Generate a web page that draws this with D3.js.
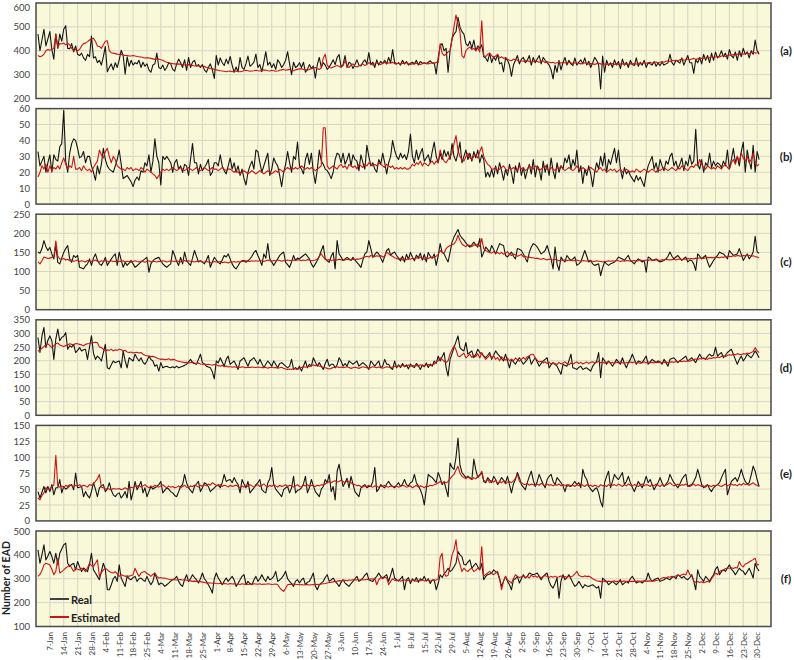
<!DOCTYPE html>
<html><head><meta charset="utf-8">
<script src="https://cdn.jsdelivr.net/npm/d3@7"></script>
<style>html,body{margin:0;padding:0;background:#fff;overflow:hidden}svg{display:block;font-family:Lato,"Open Sans",sans-serif}</style>
</head><body><svg id="chart" width="794" height="660"></svg>
<script>
const tickLabels = ["7-Jan","14-Jan","21-Jan","28-Jan","4-Feb","11-Feb","18-Feb","25-Feb","4-Mar","11-Mar","18-Mar","25-Mar","1-Apr","8-Apr","15-Apr","22-Apr","29-Apr","6-May","13-May","20-May","27-May","3-Jun","10-Jun","17-Jun","24-Jun","1-Jul","8-Jul","15-Jul","22-Jul","29-Jul","5-Aug","12-Aug","19-Aug","26-Aug","2-Sep","9-Sep","16-Sep","23-Sep","30-Sep","7-Oct","14-Oct","21-Oct","28-Oct","4-Nov","11-Nov","18-Nov","25-Nov","2-Dec","9-Dec","16-Dec","23-Dec","30-Dec"];
const panelNames = ["(a)","(b)","(c)","(d)","(e)","(f)"];
const yMin = [200,0,0,0,0,100];
const yMax = [600,60,250,350,150,500];
const yStep = [100,10,50,50,25,100];
const legendLabels = ["Real","Estimated"];
const yTitle = "Number of EAD";

const realA = [
470,400,445,490,420,450,480,405,365,470,
410,470,440,490,505,410,408,430,395,420,
385,380,390,370,360,385,375,462,370,375,
350,360,340,375,418,312,330,345,320,350,
330,362,402,380,302,375,335,360,340,350,
345,360,330,352,335,345,320,310,340,345,
390,330,325,340,318,330,350,345,322,315,
345,365,350,330,362,318,372,330,352,360,
335,342,330,342,320,310,330,345,320,284,
380,340,370,350,338,365,345,376,340,310,
332,312,372,330,322,346,378,335,342,352,
386,330,342,312,352,396,340,352,330,346,
322,362,350,330,342,360,396,345,300,352,
330,336,350,330,352,310,322,342,326,336,
285,342,372,330,350,340,322,332,346,362,
342,372,384,332,342,380,330,352,346,326,
342,362,340,336,352,362,346,392,342,352,
330,362,340,356,346,360,345,372,350,405,
352,345,350,340,360,345,355,340,348,352,
345,360,340,355,348,350,345,352,358,348,
350,302,370,420,430,400,410,310,400,450,
470,480,540,500,480,470,430,420,440,410,
445,400,420,410,425,375,370,355,390,350,
375,360,385,345,350,312,370,360,340,293,
340,360,380,345,365,372,350,360,380,340,
372,350,365,380,345,372,360,350,340,320,
282,340,310,360,320,350,372,340,360,345,
338,370,340,352,362,345,370,340,356,330,
350,372,360,340,240,378,310,360,338,350,
330,362,340,355,325,365,340,352,330,360,
342,338,370,335,352,340,360,330,350,345,
340,355,335,348,338,352,340,345,350,385,
350,340,360,355,348,370,340,360,380,350,
350,305,362,350,372,345,385,360,380,350,
390,360,395,370,380,400,375,390,365,405,
380,370,395,360,400,375,410,385,395,370,
400,385,445,400,385];
const estA = [
380,375,378,385,400,405,402,405,410,470,
415,430,428,432,425,430,425,410,400,405,
400,405,420,430,432,438,445,450,452,440,
420,418,410,425,440,442,400,392,390,388,
386,385,385,382,380,380,378,378,380,378,
376,375,374,372,370,370,370,368,366,364,
366,365,362,360,355,352,350,348,346,345,
344,345,343,342,340,341,342,340,338,336,
338,336,335,334,335,330,328,326,325,322,
320,318,316,315,314,312,314,315,312,314,
315,313,312,314,316,318,316,314,315,316,
318,316,315,318,320,318,316,315,318,316,
314,315,318,320,322,318,320,322,318,316,
320,322,324,325,322,320,318,322,325,328,
330,325,322,328,370,385,340,330,328,332,
335,338,335,330,338,360,335,330,340,345,
335,332,336,340,345,338,342,350,345,340,
345,350,346,342,348,352,345,350,348,352,
346,344,348,345,348,346,350,345,342,346,
344,348,345,342,346,350,348,345,348,350,
346,352,350,430,390,380,385,395,400,450,
500,550,510,480,380,370,400,410,415,405,
410,400,412,395,525,380,375,385,390,380,
372,378,385,370,375,368,372,365,360,358,
365,362,360,355,358,356,360,358,355,352,
356,358,355,352,356,358,350,354,352,350,
352,348,350,352,349,351,350,348,352,350,
346,350,348,347,345,348,350,346,344,346,
345,343,346,348,345,342,344,345,342,344,
346,343,345,342,344,346,342,345,343,346,
344,346,344,348,345,347,350,348,350,352,
348,350,353,350,352,355,352,356,358,355,
360,358,360,358,362,365,360,362,365,362,
365,368,364,366,370,368,370,368,372,370,
375,372,374,376,374,378,380,376,380,382,
380,384,382,386,384,388,385,388,390,386,
392,395,390,392,395];

const realB = [
33,24,27,30,20,26,31,20,31,28,
27,36,38,59,27,20,32,38,41,40,
35,29,30,33,26,30,30,24,20,15,
24,19,25,35,28,24,22,21,20,24,
28,34,25,16,17,18,16,14,11,15,
17,15,21,20,26,24,31,20,27,41,
30,26,12,30,28,30,28,26,20,26,
28,22,24,20,25,24,18,28,38,26,
26,19,25,21,23,25,28,18,20,26,
26,24,31,24,21,19,24,29,22,26,
20,24,18,22,16,12,20,24,27,22,
34,33,26,20,24,28,32,18,22,29,
26,24,18,11,20,25,33,26,20,30,
28,39,24,22,19,28,32,25,32,20,
13,22,34,27,25,22,21,19,16,20,
28,32,31,26,32,25,28,32,24,31,
28,27,21,31,26,22,37,30,24,26,
22,20,28,25,32,26,19,26,30,40,
34,30,28,32,29,31,28,33,44,30,
26,34,28,32,35,27,29,31,26,33,
39,30,26,32,28,34,30,33,28,38,
30,27,32,39,26,30,34,28,32,27,
33,29,34,26,31,28,17,20,17,22,
17,24,19,26,21,15,22,18,25,20,
13,24,20,26,18,23,16,21,25,19,
28,17,24,22,15,27,20,25,18,29,
21,16,26,20,24,22,29,26,31,22,
28,24,34,20,24,13,22,18,24,19,
11,20,26,22,30,24,32,20,28,25,
30,35,26,34,22,16,23,19,21,18,
16,14,18,15,17,14,11,19,24,27,
30,22,26,20,28,24,21,27,25,30,
32,24,27,22,25,29,21,27,24,31,
25,27,47,25,22,28,20,26,24,32,
23,27,24,26,25,23,27,24,34,22,
28,35,26,30,24,33,39,20,34,27,
22,37,20,33,28];
const estB = [
17,20,24,22,25,20,24,21,23,22,
24,22,26,29,25,22,24,23,30,22,
22,23,21,24,22,21,22,20,23,25,
27,34,31,29,33,35,30,26,30,28,
24,23,22,22,21,23,22,23,21,22,
22,21,23,22,20,22,21,20,19,18,
16,18,20,22,21,22,21,22,23,22,
21,22,23,22,21,22,23,22,21,22,
23,22,21,22,23,22,21,22,23,22,
22,21,22,23,22,21,22,22,21,20,
21,20,19,20,21,20,19,20,21,20,
19,20,21,20,19,20,21,20,19,20,
21,20,22,21,20,22,23,22,23,22,
23,22,23,24,23,22,23,22,23,22,
21,22,23,24,48,48,24,22,23,24,
23,22,24,25,23,24,22,25,24,23,
24,22,25,24,23,25,24,26,25,24,
25,24,26,25,24,23,25,24,23,24,
22,23,22,23,22,23,22,22,23,25,
24,26,25,27,24,26,25,24,26,27,
25,27,26,34,30,27,26,28,30,32,
38,43,34,30,28,27,30,32,29,28,
30,31,29,33,36,30,27,25,24,22,
22,23,21,22,23,24,22,21,23,22,
23,22,21,24,22,23,21,22,24,23,
22,24,23,21,22,23,24,22,21,23,
22,21,23,22,24,22,21,22,23,22,
21,22,24,22,21,23,22,21,22,23,
22,21,20,22,23,21,22,20,21,22,
21,22,20,21,22,20,21,22,21,20,
21,20,22,21,20,21,22,21,20,21,
22,21,20,22,21,22,23,22,21,22,
23,22,21,23,22,24,23,22,21,23,
24,23,25,24,28,25,23,22,24,23,
22,23,22,24,23,22,24,25,23,22,
26,28,25,30,27,32,29,27,30,26,
28,32,27,24,25];

const realC = [
151,148,160,181,165,155,163,146,133,168,
124,120,135,150,160,168,133,124,142,137,
142,111,109,107,115,120,133,116,135,146,
130,120,116,125,137,116,125,133,140,146,
116,151,130,111,124,116,122,129,120,111,
115,120,125,129,133,137,98,120,128,133,
135,137,128,120,115,111,116,120,155,142,
126,116,137,120,151,129,122,116,135,155,
140,125,128,125,120,130,142,111,125,137,
130,124,120,130,142,138,146,133,120,111,
107,115,124,128,129,124,128,133,140,150,
155,142,130,116,146,135,173,133,125,116,
125,133,142,147,151,124,118,111,125,142,
129,135,133,138,142,146,140,133,120,111,
120,129,140,155,168,133,128,124,140,150,
107,181,146,138,129,133,137,133,129,137,
130,124,118,111,130,146,151,181,160,137,
144,151,146,135,124,140,155,160,142,148,
151,142,135,128,140,125,145,132,150,138,
128,143,136,148,130,145,125,150,140,135,
146,116,140,173,150,146,135,125,150,177,
190,200,210,195,188,182,175,168,164,170,
177,170,164,186,138,150,164,158,151,168,
158,146,160,173,170,168,142,138,145,151,
140,133,160,158,155,146,135,125,150,164,
173,170,164,155,146,150,155,168,150,133,
107,164,120,103,138,130,125,142,135,129,
133,138,116,120,125,140,155,140,125,129,
120,116,118,120,89,110,125,120,116,120,
122,125,130,138,135,133,129,136,142,129,
125,120,128,133,129,125,129,98,138,135,
129,131,133,128,125,127,129,133,140,151,
140,133,138,142,135,129,134,138,125,130,
129,120,103,146,140,133,138,142,125,111,
120,129,136,142,151,148,146,140,133,155,
148,142,144,146,160,145,129,138,146,133,
140,151,192,151,148];
const estC = [
125,120,128,138,136,134,135,137,138,180,
140,133,132,134,130,132,128,130,127,128,
130,126,128,127,125,129,127,126,128,130,
127,125,128,126,129,127,125,128,126,127,
125,127,126,128,125,127,126,124,126,128,
126,125,127,126,124,126,128,125,127,126,
125,127,126,128,127,125,126,128,127,126,
128,126,125,127,129,126,128,127,126,125,
127,126,128,125,124,126,125,123,124,126,
125,124,126,123,125,124,122,125,124,126,
124,126,125,127,126,128,127,126,128,127,
128,127,129,128,126,128,130,128,127,129,
128,130,129,127,129,128,130,129,128,130,
129,131,130,128,130,129,131,130,128,129,
130,132,140,146,138,132,130,131,129,130,
131,130,132,131,129,130,132,131,130,132,
131,133,132,134,136,138,140,138,142,140,
139,141,140,142,138,140,151,146,142,140,
136,134,132,135,130,133,131,134,132,135,
133,136,134,138,135,132,136,134,137,135,
138,140,145,155,150,148,160,165,168,170,
172,180,195,182,172,168,165,170,168,165,
170,168,172,166,186,160,155,152,150,148,
152,148,150,146,150,145,148,152,145,142,
146,144,140,142,145,138,140,137,138,136,
136,134,135,133,132,134,132,130,133,131,
130,132,130,128,130,129,131,128,130,129,
128,129,130,128,127,129,128,127,129,128,
127,126,128,127,126,125,127,126,128,127,
128,127,129,128,126,128,127,129,128,127,
128,129,127,128,130,129,128,130,129,131,
130,129,131,130,129,131,130,132,131,130,
131,132,130,132,133,131,133,132,134,133,
134,133,135,134,136,135,134,136,137,136,
137,136,138,137,136,138,137,139,138,140,
139,141,140,142,141,140,142,141,143,142,
140,141,139,138,136];

const realD = [
285,230,290,322,248,275,291,273,205,279,
316,273,285,290,303,242,255,250,260,230,
238,248,236,240,242,205,250,291,228,205,
217,210,199,230,260,174,170,185,199,193,
196,199,174,236,200,174,211,205,199,224,
210,199,211,195,187,199,217,205,199,180,
185,162,193,174,178,180,176,174,178,174,
180,174,177,180,183,187,196,205,193,190,
187,205,224,193,188,180,177,174,160,134,
199,192,211,195,180,205,217,187,193,199,
184,168,199,205,211,195,180,199,205,211,
199,187,205,190,174,187,199,190,180,199,
187,174,190,193,187,180,174,180,205,168,
175,168,180,162,180,199,174,187,180,211,
195,180,193,180,168,190,205,180,187,187,
174,185,211,199,180,190,180,199,193,187,
193,199,180,187,193,187,180,168,199,190,
180,190,199,174,180,205,187,187,174,168,
199,174,185,175,190,178,185,170,188,180,
175,190,182,168,185,178,192,175,188,180,
199,190,217,199,215,230,175,144,205,226,
248,270,291,248,240,236,267,224,230,236,
211,224,242,230,224,218,211,220,230,205,
220,236,225,217,208,199,224,200,174,205,
196,187,200,211,199,187,196,205,217,187,
200,211,195,180,190,199,205,211,174,185,
193,186,180,165,150,187,183,180,200,224,
174,172,168,176,180,168,172,174,168,162,
180,190,199,230,138,211,200,187,199,190,
180,192,205,196,187,211,190,174,193,205,
224,206,187,199,196,193,205,217,187,196,
205,199,193,199,196,187,205,193,180,205,
208,211,202,193,200,205,211,217,199,205,
211,202,193,209,224,211,208,205,217,224,
217,220,250,217,224,230,211,220,230,236,
242,224,205,187,205,217,199,210,224,217,
211,222,236,225,211];
const estD = [
235,240,245,252,258,262,255,248,255,262,
265,258,255,252,256,258,262,260,258,263,
262,260,258,255,260,262,263,265,267,268,
266,250,248,242,236,240,238,242,236,240,
238,242,240,236,238,232,230,232,228,230,
231,228,230,224,220,218,217,215,216,214,
210,207,205,206,204,205,207,203,205,204,
200,198,196,195,193,194,192,193,195,192,
190,192,188,187,188,186,187,185,184,186,
185,182,180,183,178,181,177,179,176,178,
176,177,175,178,176,174,176,175,177,176,
175,177,176,174,176,175,173,175,176,174,
175,173,174,176,172,170,168,170,168,172,
170,168,172,175,178,176,180,178,182,185,
182,185,180,178,176,174,172,170,172,175,
176,178,175,177,174,176,178,175,172,174,
176,174,172,175,178,176,174,172,175,178,
176,174,177,175,173,175,178,176,174,177,
180,178,182,180,183,179,181,184,180,182,
181,183,180,185,182,180,184,186,183,185,
188,195,200,211,205,198,193,200,225,240,
254,240,217,215,222,228,210,218,224,212,
220,215,226,210,230,216,205,212,222,210,
218,205,212,200,215,208,202,210,200,206,
200,210,204,198,206,212,205,215,218,224,
224,210,202,195,198,192,196,190,194,188,
192,190,186,194,188,192,196,190,185,192,
188,192,196,190,194,188,192,195,190,194,
196,192,194,198,192,195,191,194,196,192,
194,190,195,192,196,193,190,194,192,195,
193,196,192,194,190,193,196,192,195,193,
194,192,196,193,195,192,194,196,193,195,
196,194,197,195,198,196,199,197,200,198,
202,204,206,204,208,206,210,208,205,210,
208,212,210,214,212,216,218,215,220,222,
220,224,222,226,224,222,226,224,228,226,
230,234,248,236,230];

const realE = [
46,36,45,54,44,54,46,57,41,52,
52,65,44,54,50,52,55,57,49,75,
52,53,54,38,46,40,36,46,60,50,
38,52,55,57,46,50,60,48,41,38,
42,44,36,40,46,36,62,33,45,62,
49,55,62,44,52,38,46,54,50,52,
54,57,62,44,48,52,50,46,44,40,
38,46,54,57,73,60,52,48,44,54,
58,62,46,52,60,58,54,46,49,52,
55,57,52,60,73,62,64,65,60,68,
62,57,44,65,58,52,62,44,48,52,
57,60,65,49,46,44,60,66,84,57,
50,46,42,38,49,52,54,44,52,70,
44,48,49,52,58,70,44,52,65,55,
46,42,38,50,54,65,60,73,46,54,
33,78,89,70,54,60,67,52,70,58,
46,42,38,52,55,57,52,54,54,62,
84,46,50,57,54,52,58,62,57,54,
52,56,60,54,58,65,57,55,60,62,
73,60,55,49,40,25,50,73,70,68,
64,60,76,68,57,62,50,38,91,84,
81,100,130,88,76,72,68,70,68,65,
97,80,68,72,76,62,60,68,64,60,
70,65,57,62,68,64,60,70,57,44,
58,65,76,68,57,53,49,60,70,78,
64,54,62,73,65,58,52,65,70,73,
62,57,68,64,60,55,46,57,55,54,
58,62,57,60,52,81,70,65,54,50,
46,50,52,44,30,22,60,70,78,52,
62,73,68,65,70,76,57,62,70,60,
53,46,54,62,57,52,60,70,60,65,
57,49,55,60,68,60,54,58,62,73,
66,60,56,52,58,65,70,73,54,56,
57,62,68,81,70,57,52,55,57,50,
46,52,55,57,60,68,75,81,41,52,
62,65,68,62,70,81,70,62,58,60,
72,86,78,65,54];
const estE = [
36,33,40,44,52,50,50,54,56,103,
55,53,55,52,56,54,57,55,53,56,
55,57,54,56,55,53,57,56,58,62,
66,73,53,52,50,51,50,49,51,50,
50,51,49,50,52,50,51,53,52,55,
54,56,53,55,57,54,52,55,53,56,
54,53,55,57,54,52,55,53,54,52,
53,55,52,54,56,53,52,55,54,56,
55,53,56,54,57,55,58,56,60,58,
56,55,57,54,56,55,53,56,54,55,
56,54,52,55,53,56,54,57,55,53,
55,57,54,56,58,55,53,56,54,57,
55,53,56,54,55,57,54,56,55,53,
55,57,54,53,56,55,57,54,56,55,
54,56,55,57,56,58,60,62,60,62,
63,61,62,64,62,60,63,62,60,58,
57,55,56,54,53,55,54,56,54,53,
55,54,53,55,54,56,54,53,55,54,
54,55,53,54,56,55,53,54,55,52,
54,56,53,55,54,52,55,54,56,55,
57,58,60,62,59,61,60,62,66,70,
73,80,86,75,70,68,66,69,67,65,
68,66,70,72,78,64,62,65,60,63,
61,64,59,62,60,63,58,61,62,60,
63,67,73,62,60,58,57,59,56,58,
57,55,58,56,59,57,55,58,56,57,
55,57,56,58,55,57,56,54,57,55,
56,54,57,55,58,56,54,57,55,56,
54,56,55,53,57,55,56,54,57,55,
56,57,55,58,56,54,57,55,58,56,
55,57,56,54,56,58,55,57,56,54,
57,55,58,56,54,57,55,56,58,60,
57,55,56,58,55,57,56,58,55,54,
56,58,55,57,56,54,55,53,56,55,
54,56,55,57,55,54,56,58,55,57,
58,56,57,55,58,56,59,57,58,56,
58,60,57,56,54];

const realF = [
421,365,400,442,379,395,414,393,365,407,
358,407,425,442,449,365,351,360,365,337,
372,350,330,345,338,330,360,407,337,324,
310,296,331,365,340,254,254,275,300,310,
289,358,303,285,268,310,300,296,305,310,
289,300,303,295,289,310,290,275,289,324,
300,275,282,278,268,275,282,290,296,300,
310,289,275,268,296,317,289,300,317,305,
296,282,300,324,300,289,275,260,240,300,
324,303,290,275,290,303,289,300,310,295,
268,280,296,310,317,275,289,280,275,295,
310,289,300,317,300,289,310,296,300,310,
331,289,295,303,315,331,300,289,280,268,
290,296,282,295,303,275,285,289,305,324,
270,254,275,282,289,305,317,289,295,303,
289,280,268,285,296,282,275,268,280,289,
300,310,289,295,303,315,324,296,292,289,
300,310,324,310,303,310,317,289,315,344,
303,296,290,300,310,254,295,305,280,300,
290,305,285,300,295,310,290,300,280,295,
296,254,280,317,305,320,330,344,330,337,
350,365,414,400,393,360,358,370,379,344,
355,365,350,337,365,296,310,317,320,324,
337,330,324,300,268,290,310,289,275,254,
296,300,310,282,300,317,303,310,324,320,
317,320,324,310,296,310,318,324,289,270,
261,280,303,219,290,317,296,305,317,300,
282,268,275,289,275,261,275,270,268,272,
275,268,261,268,219,303,295,289,275,282,
289,282,275,285,296,275,282,289,282,300,
310,296,282,286,289,282,290,296,324,300,
289,296,300,303,289,293,296,303,300,296,
305,310,300,317,310,303,310,300,296,305,
317,290,254,337,310,300,289,310,300,289,
305,317,340,351,317,330,337,331,345,358,
340,331,317,330,344,335,331,317,330,344,
325,303,365,344,333];
const estF = [
310,318,335,358,365,362,358,340,317,331,
386,324,330,337,345,351,358,345,330,344,
340,337,344,338,330,345,365,355,351,365,
379,310,325,337,344,338,330,326,324,330,
320,310,317,314,310,312,310,314,317,344,
325,310,324,328,330,322,317,310,318,324,
310,303,305,302,303,300,298,296,297,296,
295,296,297,295,296,294,292,291,289,290,
289,289,288,286,284,282,283,282,281,282,
280,279,281,278,280,279,277,280,278,279,
277,278,276,279,277,278,276,278,277,279,
278,277,279,276,278,277,279,278,276,277,
278,276,262,254,247,260,275,277,276,278,
277,276,275,276,274,275,276,274,275,276,
275,277,276,278,279,280,282,284,285,287,
289,290,292,291,293,294,292,295,294,296,
295,296,294,297,296,295,298,296,300,298,
302,275,296,305,300,306,304,275,289,300,
294,292,295,290,293,296,292,294,291,295,
293,290,294,292,296,291,293,295,290,294,
292,295,300,390,407,324,310,315,351,400,
421,463,386,360,330,344,335,330,340,344,
330,335,344,340,435,310,318,324,331,322,
317,324,331,300,254,290,310,295,289,282,
300,317,310,305,308,312,305,310,303,315,
308,312,306,310,304,308,314,309,305,310,
306,311,305,308,312,306,309,305,310,307,
312,320,331,315,310,308,312,309,311,306,
300,296,292,290,288,291,289,287,290,288,
289,291,288,290,287,289,291,288,290,289,
288,290,289,291,288,290,292,289,291,290,
292,290,293,295,298,303,305,302,308,306,
310,308,312,315,313,317,320,316,337,318,
310,290,285,288,284,287,283,286,289,285,
300,312,324,318,330,335,338,342,345,344,
346,343,347,345,372,355,350,362,365,370,
375,380,386,358,360];

const realSeries = [realA, realB, realC, realD, realE, realF];
const estSeries = [estA, estB, estC, estD, estE, estF];
const tickDays = tickLabels.map((_, k) => 6 + 7 * k);

const svg = d3.select("#chart");
const left = 36, right = 771, panelH = 95.5, panelGap = 105.6, firstTop = 3;
const x = d3.scaleLinear().domain([-1, 370]).range([left, right]);

realSeries.forEach((real, i) => {
  const top = firstTop + panelGap * i;
  const bottom = top + panelH;
  const y = d3.scaleLinear().domain([yMin[i], yMax[i]]).range([bottom, top]);
  const ticks = d3.range(yMin[i], yMax[i] + 0.001, yStep[i]);
  const g = svg.append("g");
  g.append("rect").attr("x", left).attr("y", top).attr("width", right - left).attr("height", panelH)
    .attr("fill", "#f9f8d8");
  g.append("g").selectAll("line").data(tickDays).join("line")
    .attr("x1", d => x(d)).attr("x2", d => x(d)).attr("y1", top).attr("y2", bottom)
    .attr("stroke", "#d7d6c6").attr("stroke-width", 1);
  g.append("g").selectAll("line").data(ticks.slice(1, -1)).join("line")
    .attr("x1", left).attr("x2", right).attr("y1", d => y(d)).attr("y2", d => y(d))
    .attr("stroke", "#d7d6c6").attr("stroke-width", 1);
  const ax = g.append("g").attr("transform", `translate(${left},0)`)
    .call(d3.axisLeft(y).tickValues(ticks).tickSize(0).tickPadding(6));
  ax.select(".domain").remove();
  ax.selectAll("text").attr("font-size", 9.5).attr("fill", "#444").attr("font-family", "Lato, sans-serif")
    .attr("dy", d => (y(d) < 7 ? "0.75em" : "0.32em"));

  const line = d3.line().x((d, k) => x(k)).y(d => y(d));
  g.append("path").datum(real).attr("d", line).attr("fill", "none")
    .attr("stroke", "#141414").attr("stroke-width", 1.1).attr("stroke-linejoin", "round");
  g.append("path").datum(estSeries[i]).attr("d", line).attr("fill", "none")
    .attr("stroke", "#cc1414").attr("stroke-width", 1.1).attr("stroke-linejoin", "round");

  g.append("rect").attr("x", left).attr("y", top).attr("width", right - left).attr("height", panelH)
    .attr("fill", "none").attr("stroke", "#4a4a4a").attr("stroke-width", 1.5);
  g.append("text").attr("x", 786).attr("y", (top + bottom) / 2).attr("text-anchor", "middle")
    .attr("dominant-baseline", "central").attr("font-size", 11.5).attr("font-weight", "bold")
    .attr("fill", "#222").text(panelNames[i]);
});

const lastBottom = firstTop + panelGap * 5 + panelH;
const xa = svg.append("g").attr("transform", `translate(0,${lastBottom})`)
  .call(d3.axisBottom(x).tickValues(tickDays).tickFormat((d, k) => tickLabels[k]).tickSize(0));
xa.select(".domain").remove();
xa.selectAll("text").attr("transform", "rotate(-90)").attr("text-anchor", "end")
  .attr("x", -5.5).attr("y", 0).attr("dy", "0.35em")
  .attr("font-size", 8).attr("fill", "#444").attr("font-family", "Lato, sans-serif");

svg.append("text").attr("transform", "translate(6,578) rotate(-90)").attr("text-anchor", "middle")
  .attr("dominant-baseline", "central").attr("font-size", 10.5).attr("font-weight", "bold")
  .attr("fill", "#222").text(yTitle);

const legendColors = ["#404040", "#cc1414"];
legendLabels.forEach((lab, k) => {
  const ly = 599 + 18 * k;
  svg.append("line").attr("x1", 50).attr("x2", 69).attr("y1", ly).attr("y2", ly)
    .attr("stroke", legendColors[k]).attr("stroke-width", 2);
  svg.append("text").attr("x", 71).attr("y", ly).attr("dominant-baseline", "central")
    .attr("font-size", 11).attr("font-weight", "bold").attr("fill", "#222").text(lab);
});
</script>
</body></html>
